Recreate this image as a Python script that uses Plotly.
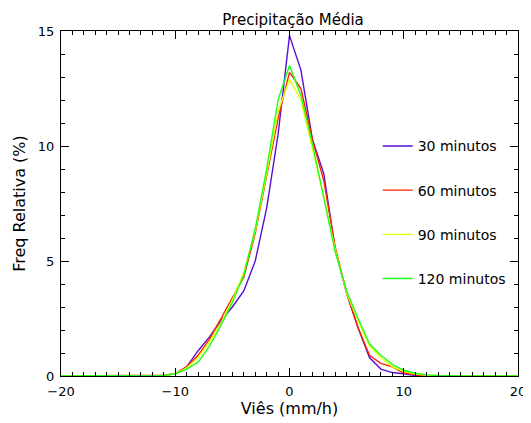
import plotly.graph_objects as go

# bias bins (mm/h)
vies = list(range(-20, 21))

# relative frequency (%) per accumulation interval
freq_30 = [0, 0, 0, 0, 0, 0, 0, 0, 0, 0.02,
           0.1, 0.4, 1.1, 1.7, 2.4, 3.0, 3.7, 5.0, 7.3, 10.5,
           14.8,
           13.3, 10.3, 8.8, 5.5, 3.6, 2.1, 0.8, 0.3, 0.15, 0.1,
           0.02, 0, 0, 0, 0, 0, 0, 0, 0, 0]
freq_60 = [0, 0, 0, 0, 0, 0, 0, 0, 0, 0.03,
           0.1, 0.4, 0.9, 1.6, 2.5, 3.4, 4.3, 6.2, 8.7, 11.2,
           13.2,
           12.5, 10.3, 8.5, 5.6, 3.6, 2.1, 0.9, 0.55, 0.4, 0.13,
           0.05, 0, 0, 0, 0, 0, 0, 0, 0, 0]
freq_90 = [0, 0, 0, 0, 0, 0, 0, 0, 0, 0.02,
           0.1, 0.35, 0.8, 1.5, 2.3, 3.3, 4.5, 6.3, 8.8, 11.5,
           12.9,
           12.0, 9.9, 7.8, 5.5, 3.6, 2.4, 1.3, 0.8, 0.4, 0.2,
           0.08, 0.03, 0, 0, 0, 0, 0, 0, 0, 0]
freq_120 = [0, 0, 0, 0, 0, 0, 0, 0, 0, 0.02,
            0.1, 0.3, 0.6, 1.3, 2.2, 3.2, 4.4, 6.4, 9.0, 12.0,
            13.5,
            12.2, 10.1, 7.7, 5.4, 3.7, 2.5, 1.4, 0.9, 0.5, 0.25,
            0.12, 0.05, 0.02, 0, 0, 0, 0, 0, 0, 0]

series = [
    ("30 minutos", freq_30, "#5a0fd0"),
    ("60 minutos", freq_60, "#ff1e00"),
    ("90 minutos", freq_90, "#e4ff00"),
    ("120 minutos", freq_120, "#1eff1e"),
]

font = dict(family="DejaVu Sans", size=13, color="black")

fig = go.Figure()
for i, (name, vals, color) in enumerate(series):
    fig.add_trace(go.Scatter(x=vies, y=vals, mode="lines", name=name,
                             legendgroup=str(i),
                             line=dict(color=color, width=1.4)))

axis_common = dict(showline=True, linecolor="black", linewidth=1, mirror="ticks",
                   ticks="inside", tickcolor="black", showgrid=False, zeroline=False,
                   automargin=False,
                   tickfont=dict(family="DejaVu Sans", size=13, color="black"))

# page body adds an 8px offset, so the figure is sized to the remaining window
fig.update_layout(
    width=523, height=415,
    margin=dict(l=53, r=13, t=23, b=47),
    paper_bgcolor="white", plot_bgcolor="white",
    font=font,
    title=dict(text="Precipitação Média", x=0.545, xanchor="center", y=0.985,
               yanchor="top", font=dict(family="DejaVu Sans", size=15)),
    xaxis=dict(range=[-20, 20], dtick=10, ticklen=8, ticklabelstandoff=3,
               minor=dict(ticks="inside", dtick=1, ticklen=4, tickcolor="black"),
               title=dict(text="Viês (mm/h)", standoff=0), **axis_common),
    yaxis=dict(range=[0, 15], dtick=5, ticklen=8, ticklabelstandoff=3,
               minor=dict(ticks="inside", dtick=1, ticklen=4, tickcolor="black"),
               title=dict(text="Freq Relativa (%)", standoff=8), **axis_common),
    legend=dict(x=0.693, y=0.712, xanchor="left", yanchor="top",
                bgcolor="rgba(0,0,0,0)", tracegroupgap=23, itemwidth=30,
                font=dict(family="DejaVu Sans", size=14, color="black")),
    showlegend=True,
)

fig.write_html("out.html")
